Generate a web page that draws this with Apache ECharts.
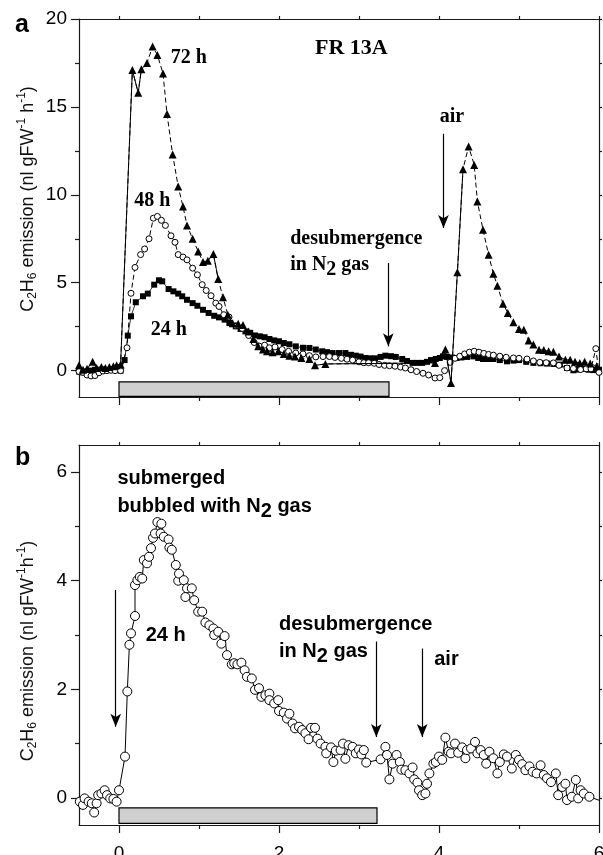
<!DOCTYPE html>
<html><head><meta charset="utf-8">
<script src="https://cdn.jsdelivr.net/npm/echarts@6/dist/echarts.min.js"></script>
<style>html,body{margin:0;padding:0;background:#fff}#c{width:603px;height:855px}</style>
</head><body><div id="c"></div>
<script>
// ---------- tick values ----------
const xTickLabels = [0, 2, 4, 6];
const xMinorTicks = [1, 3, 5];
const yTicksA = [0, 5, 10, 15, 20];
const yMinorA = [2.5, 7.5, 12.5, 17.5];
const yTicksB = [0, 2, 4, 6];
const yMinorB = [1, 3, 5];

// ---------- panel a data (hours, nl gFW-1 h-1) ----------
const a24h = [[-0.5,-0.05],[-0.45,-0.1],[-0.4,-0.05],[-0.35,0.0],[-0.3,0.05],[-0.25,0.05],[-0.2,0.08],[-0.15,0.05],[-0.1,0.08],[-0.05,0.1],[0.02,0.0],[0.07,0.6],
[0.11,1.99],[0.15,3.09],[0.21,3.89],[0.3,4.23],[0.36,4.38],[0.44,4.89],[0.5,5.14],[0.54,5.08],[0.62,4.64],[0.68,4.51],[0.74,4.38],[0.79,4.23],[0.85,4.03],[0.92,3.84],[0.98,3.69],[1.05,3.46],[1.12,3.28],[1.19,3.12],[1.25,3.03],[1.32,2.9],[1.38,2.71],[1.46,2.52],[1.52,2.37],[1.58,2.23],[1.64,2.15],[1.7,2.0],[1.76,1.95],[1.82,1.9],[1.88,1.8],[1.94,1.72],[2.0,1.67],[2.06,1.57],[2.13,1.5],[2.21,1.38],[2.3,1.3],[2.38,1.29],[2.46,1.2],[2.54,1.1],[2.6,1.05],[2.67,1.0],[2.75,1.0],[2.83,1.0],[2.9,0.9],[2.96,0.85],[3.02,0.8],[3.08,0.72],[3.14,0.7],[3.2,0.7],[3.27,0.78],[3.33,0.85],[3.4,0.82],[3.46,0.78],[3.54,0.66],[3.6,0.55],[3.67,0.44],[3.73,0.44],[3.79,0.44],[3.85,0.5],[3.9,0.6],[3.96,0.66],[4.01,0.72],[4.05,0.81],[4.1,0.78],[4.16,0.75],[4.22,0.72],[4.28,0.75],[4.35,0.78],[4.43,0.81],[4.49,0.72],[4.55,0.66],[4.62,0.66],[4.68,0.66],[4.76,0.6],[4.85,0.53],[4.93,0.57],[5.0,0.6],[5.09,0.5],[5.18,0.44],[5.27,0.42],[5.35,0.4],[5.43,0.38],[5.51,0.34],[5.6,0.15],[5.68,0.02],[5.74,0.06],[5.8,0.1],[5.87,0.05],[5.93,0.03],[6.0,0.05]];

const a48h = [[-0.5,-0.05],[-0.45,-0.1],[-0.4,-0.25],[-0.35,-0.3],[-0.3,-0.28],[-0.25,-0.12],[-0.2,-0.02],[-0.15,0.0],[-0.1,0.02],[-0.05,0.0],[0.02,0.0],
[0.1,1.3],[0.15,4.4],[0.2,5.87],[0.27,6.6],[0.32,6.92],[0.375,7.5],[0.43,8.67],[0.48,8.77],[0.53,8.55],[0.58,8.26],[0.65,7.67],[0.7,7.3],[0.74,6.6],[0.8,6.46],[0.85,6.3],[0.92,5.83],[0.98,5.45],[1.04,4.89],[1.09,4.56],[1.15,4.26],[1.21,3.84],[1.25,3.65],[1.31,3.18],[1.375,3.05],[1.46,2.55],[1.54,2.4],[1.62,2.0],[1.69,1.6],[1.75,1.4],[1.82,1.45],[1.88,1.3],[1.95,1.35],[2.04,1.2],[2.12,1.1],[2.21,1.0],[2.3,0.95],[2.38,0.85],[2.46,0.78],[2.55,0.8],[2.63,0.8],[2.7,0.75],[2.78,0.7],[2.85,0.65],[2.92,0.6],[3.0,0.5],[3.06,0.45],[3.12,0.45],[3.19,0.42],[3.25,0.35],[3.32,0.3],[3.38,0.28],[3.45,0.25],[3.52,0.2],[3.58,0.15],[3.65,0.05],[3.72,-0.05],[3.8,-0.15],[3.87,-0.25],[3.95,-0.42],[4.01,-0.4],[4.07,0.0],[4.14,0.47],[4.2,0.7],[4.26,0.82],[4.32,0.95],[4.38,1.05],[4.44,1.1],[4.5,1.05],[4.56,0.98],[4.62,0.92],[4.68,0.88],[4.76,0.82],[4.84,0.76],[4.93,0.72],[5.0,0.7],[5.1,0.66],[5.18,0.55],[5.26,0.47],[5.34,0.45],[5.43,0.44],[5.5,0.3],[5.6,0.15],[5.68,0.12],[5.77,0.06],[5.84,0.1],[5.9,0.1],[5.96,1.25],[6.0,-0.1]];

const a72h = [[-0.5,0.3],[-0.45,0.05],[-0.4,0.1],[-0.33,0.5],[-0.28,0.15],[-0.22,0.2],[-0.17,0.15],[-0.12,0.2],[-0.07,0.25],[-0.03,0.3],[0.02,0.35],
[0.167,17.1],[0.24,15.8],[0.28,17.14],[0.35,17.5],[0.42,18.43],[0.48,17.95],[0.55,16.9],[0.6,14.6],[0.67,12.3],[0.74,10.47],[0.8,9.34],[0.85,8.26],[0.92,7.5],[0.99,6.78],[1.05,6.18],[1.11,6.25],[1.18,6.63],[1.24,5.21],[1.3,4.17],[1.36,3.18],[1.42,2.7],[1.49,2.67],[1.55,2.6],[1.62,2.23],[1.68,1.8],[1.74,1.38],[1.8,1.2],[1.85,1.1],[1.92,1.05],[1.99,1.1],[2.06,0.95],[2.13,0.85],[2.2,0.8],[2.28,0.72],[2.38,0.66],[2.45,0.3],[2.58,0.38],
[3.95,0.44],[4.08,1.2],[4.15,-0.7],[4.23,5.59],[4.3,11.46],[4.37,12.75],[4.44,11.7],[4.48,9.62],[4.55,8.01],[4.62,6.59],[4.68,5.51],[4.73,4.83],[4.8,3.81],[4.86,3.28],[4.93,2.75],[5.0,2.37],[5.06,2.33],[5.12,1.72],[5.18,1.48],[5.25,1.19],[5.31,1.17],[5.37,1.1],[5.43,1.08],[5.5,0.8],[5.58,0.62],[5.64,0.62],[5.7,0.5],[5.76,0.44],[5.82,0.5],[5.89,0.4],[5.97,0.25]];
// x-ranges where the 72 h trace is drawn with a solid (not dashed) line
const a72hSolidRanges = [[-0.5,0.28],[1.11,1.24],[2.45,4.3]];

// ---------- panel b data ----------
const b24h = [[-0.49,-0.07],[-0.45,-0.13],[-0.43,-0.01],[-0.38,-0.07],[-0.34,-0.1],[-0.31,-0.27],[-0.28,-0.1],[-0.26,0.05],[-0.22,0.08],[-0.18,0.14],[-0.15,0.05],[-0.11,-0.01],[-0.07,-0.02],[-0.03,-0.07],
[0.0,0.14],[0.075,0.76],[0.104,1.96],[0.13,2.82],[0.15,3.03],[0.2,3.35],[0.2,3.92],[0.23,4.01],[0.26,4.07],[0.29,4.04],[0.31,4.38],[0.35,4.32],[0.375,4.44],[0.4,4.6],[0.425,4.79],[0.45,4.87],[0.48,5.08],[0.52,4.87],[0.53,5.05],[0.56,4.81],[0.62,4.76],[0.63,4.61],[0.66,4.57],[0.71,4.29],[0.74,4.0],[0.75,4.13],[0.81,4.01],[0.83,3.7],[0.85,3.86],[0.91,3.86],[0.94,3.64],[0.99,3.43],[1.04,3.43],[1.08,3.23],[1.13,3.18],[1.18,3.12],[1.19,3.0],[1.24,3.06],[1.28,2.84],[1.32,2.98],[1.35,2.63],[1.41,2.46],[1.44,2.48],[1.48,2.46],[1.53,2.49],[1.57,2.35],[1.6,2.23],[1.66,2.2],[1.7,1.99],[1.75,2.02],[1.78,1.86],[1.83,1.89],[1.88,1.92],[1.88,1.8],[1.94,1.74],[1.99,1.8],[2.0,1.6],[2.06,1.57],[2.1,1.46],[2.13,1.55],[2.17,1.37],[2.2,1.28],[2.25,1.31],[2.29,1.25],[2.33,1.19],[2.37,1.08],[2.4,1.29],[2.45,1.29],[2.48,1.09],[2.52,1.0],[2.58,0.94],[2.59,0.82],[2.65,0.93],[2.68,0.66],[2.71,0.87],[2.77,0.88],[2.8,1.0],[2.83,0.72],[2.87,0.97],[2.92,0.94],[2.96,0.82],[3.0,0.89],[3.03,0.8],[3.06,0.88],[3.09,0.65],
[3.27,0.71],[3.33,0.94],[3.35,0.79],[3.38,0.34],[3.42,0.63],[3.47,0.79],[3.51,0.66],[3.53,0.52],[3.58,0.51],[3.63,0.45],[3.67,0.56],[3.69,0.34],[3.73,0.28],[3.75,0.14],[3.79,0.05],[3.83,0.08],[3.85,0.26],[3.88,0.45],[3.93,0.63],[3.96,0.66],[4.0,0.76],[4.04,0.7],[4.08,1.11],[4.12,0.85],[4.15,0.82],[4.2,1.0],[4.24,0.83],[4.29,0.93],[4.33,0.73],[4.35,0.88],[4.4,0.91],[4.45,1.03],[4.48,0.82],[4.52,0.88],[4.56,0.79],[4.59,0.63],[4.63,0.85],[4.68,0.73],[4.73,0.45],[4.76,0.66],[4.81,0.8],[4.85,0.76],[4.91,0.54],[4.96,0.79],[5.0,0.7],[5.04,0.62],[5.08,0.51],[5.13,0.58],[5.17,0.48],[5.22,0.45],[5.27,0.6],[5.31,0.42],[5.35,0.36],[5.4,0.29],[5.46,0.45],[5.49,0.05],[5.54,0.2],[5.58,0.26],[5.6,-0.04],[5.66,0.02],[5.71,0.33],[5.74,-0.01],[5.77,0.14],[5.81,0.08],[5.88,0.02],[6.05,-0.07]];

// ---------- annotations (data coordinates) ----------
const submergedA = [0, 3.375, -0.64, -1.46];
const submergedB = [0, 3.225, -0.184, -0.47];
const arrowsA = [[3.366, 6.12, 1.38], [4.056, 13.47, 8.11]];
const arrowsB = [[-0.041, 3.83, 1.31], [3.216, 2.88, 1.12], [3.79, 2.75, 1.12]];
const textsA = [
  [0.646, 17.77, '72 h', 20],
  [0.19, 9.63, '48 h', 20],
  [0.396, 2.34, '24 h', 20],
  [2.45, 18.33, 'FR 13A', 22],
  [4.01, 14.45, 'air', 20],
  [2.14, 7.5, 'desubmergence', 20],
  [2.14, 6.0, '{n|in N}{s|2}{n| gas}', 20]
];
const textsB = [
  [-0.02, 5.88, 'submerged', 20],
  [-0.02, 5.37, '{n|bubbled with N}{s|2}{n| gas}', 20],
  [0.334, 3.0, '24 h', 20],
  [2.0, 3.2, 'desubmergence', 20],
  [2.0, 2.70, '{n|in N}{s|2}{n| gas}', 20],
  [3.94, 2.54, 'air', 20]
];
const yTitleA = '{n|C}{s|2}{n|H}{s|6}{n| emission (nl gFW}{p|-1}{n| h}{p|-1}{n|)}';
const yTitleB = '{n|C}{s|2}{n|H}{s|6}{n| emission (nl gFW}{p|-1}{n|h}{p|-1}{n|)}';

// ---------- helpers ----------
function solidPieces(pts, ranges) {
  const out = [];
  for (let i = 0; i < pts.length - 1; i++) {
    const a = pts[i], b = pts[i + 1];
    const solid = ranges.some(r => a[0] >= r[0] - 1e-9 && b[0] <= r[1] + 1e-9);
    if (solid) {
      if (out.length === 0 || out[out.length - 1] !== a) out.push(a);
      out.push(b);
    } else if (out.length && out[out.length - 1] !== '-') {
      out.push('-');
    }
  }
  return out.map(p => p === '-' ? [NaN, '-'] : p);
}

const AX = '#1a1a1a';
const FONT = 'Liberation Sans';
function xAxisDef(grid, pos, ticks, len, line, labels) {
  return {
    gridIndex: grid, type: 'value', min: -0.5, max: 6, position: pos,
    axisLine: { show: line, onZero: false, lineStyle: { color: AX, width: 1.2 } },
    axisTick: { show: true, inside: false, length: len, customValues: ticks, lineStyle: { color: AX, width: 1.2 } },
    axisLabel: labels ? { show: true, customValues: ticks, margin: 19, color: '#000', fontSize: 19, fontFamily: FONT } : { show: false },
    splitLine: { show: false }
  };
}
function yAxisDef(grid, min, max, pos, ticks, len, line, labels) {
  return {
    gridIndex: grid, type: 'value', min: min, max: max, position: pos,
    axisLine: { show: line, onZero: false, lineStyle: { color: AX, width: 1.2 } },
    axisTick: { show: true, inside: false, length: len, customValues: ticks, lineStyle: { color: AX, width: 1.2 } },
    axisLabel: labels ? { show: true, customValues: ticks, margin: 12, color: '#000', fontSize: 19, fontFamily: FONT } : { show: false },
    splitLine: { show: false }
  };
}

const allX = xTickLabels.concat(xMinorTicks);
const option = {
  backgroundColor: '#fff',
  animation: false,
  textStyle: { fontFamily: FONT },
  grid: [
    { left: 79, top: 19, width: 520, height: 378, outerBoundsMode: 'none', containLabel: false },
    { left: 79, top: 445, width: 520, height: 380, outerBoundsMode: 'none', containLabel: false }
  ],
  xAxis: [
    xAxisDef(0, 'bottom', xTickLabels, 8, true, false),
    xAxisDef(0, 'bottom', xMinorTicks, 4, false, false),
    xAxisDef(0, 'top', allX, 3, true, false),
    xAxisDef(1, 'bottom', xTickLabels, 8, true, true),
    xAxisDef(1, 'bottom', xMinorTicks, 4, false, false),
    xAxisDef(1, 'top', allX, 3, true, false)
  ],
  yAxis: [
    yAxisDef(0, -1.5, 20, 'left', yTicksA, 8, true, true),
    yAxisDef(0, -1.5, 20, 'left', yMinorA, 4, false, false),
    yAxisDef(0, -1.5, 20, 'right', yTicksA.concat(yMinorA), 3, true, false),
    yAxisDef(1, -0.5, 6.5, 'left', yTicksB, 8, true, true),
    yAxisDef(1, -0.5, 6.5, 'left', yMinorB, 4, false, false),
    yAxisDef(1, -0.5, 6.5, 'right', yTicksB.concat(yMinorB), 3, true, false)
  ],
  series: [
    {
      name: '24 h', type: 'line', xAxisIndex: 0, yAxisIndex: 0, data: a24h,
      symbol: 'rect', symbolSize: 6, itemStyle: { color: '#000' },
      lineStyle: { color: '#000', width: 0.8 }, z: 3
    },
    {
      name: '48 h', type: 'line', xAxisIndex: 0, yAxisIndex: 0, data: a48h,
      symbol: 'circle', symbolSize: 6, itemStyle: { color: '#fff', borderColor: '#000', borderWidth: 1 },
      lineStyle: { color: '#000', width: 1, type: [5, 3] }, z: 4
    },
    {
      name: '72 h', type: 'line', xAxisIndex: 0, yAxisIndex: 0, data: a72h,
      symbol: 'triangle', symbolSize: 8, itemStyle: { color: '#000' },
      lineStyle: { color: '#000', width: 1, type: [5, 3] }, z: 5
    },
    {
      name: '72 h solid', type: 'line', xAxisIndex: 0, yAxisIndex: 0, data: solidPieces(a72h, a72hSolidRanges),
      symbol: 'none', connectNulls: false, lineStyle: { color: '#000', width: 1 }, z: 5,
      markArea: {
        silent: true,
        itemStyle: { color: '#d0d0d0', borderColor: '#000', borderWidth: 1.2 },
        data: [[{ coord: [submergedA[0], submergedA[2]] }, { coord: [submergedA[1], submergedA[3]] }]]
      },
      markLine: {
        silent: true, symbol: ['none', 'arrow'], symbolSize: [8, 13],
        label: { show: false }, lineStyle: { color: '#000', width: 1.2, type: 'solid' },
        data: arrowsA.map(a => [{ coord: [a[0], a[1]] }, { coord: [a[0], a[2]] }])
      }
    },
    {
      name: 'b 24 h', type: 'line', xAxisIndex: 3, yAxisIndex: 3, data: b24h,
      symbol: 'circle', symbolSize: 9, itemStyle: { color: '#fff', borderColor: '#000', borderWidth: 1 },
      lineStyle: { color: '#000', width: 1 }, z: 4,
      markArea: {
        silent: true,
        itemStyle: { color: '#d0d0d0', borderColor: '#000', borderWidth: 1.2 },
        data: [[{ coord: [submergedB[0], submergedB[2]] }, { coord: [submergedB[1], submergedB[3]] }]]
      },
      markLine: {
        silent: true, symbol: ['none', 'arrow'], symbolSize: [8, 13],
        label: { show: false }, lineStyle: { color: '#000', width: 1.2, type: 'solid' },
        data: arrowsB.map(a => [{ coord: [a[0], a[1]] }, { coord: [a[0], a[2]] }])
      }
    }
  ]
};

const chart = echarts.init(document.getElementById('c'), null, { renderer: 'canvas' });
chart.setOption(option);

function richFor(fam, size) {
  return {
    n: { fontFamily: fam, fontWeight: 'bold', fontSize: size, lineHeight: 24, fill: '#000', color: '#000' },
    s: { fontFamily: fam, fontWeight: 'bold', fontSize: size, lineHeight: 24, verticalAlign: 'top', padding: [7, 0, 0, 0], fill: '#000', color: '#000' }
  };
}
function place(gridIdx, list, fam) {
  return list.map(o => {
    const p = chart.convertToPixel({ gridIndex: gridIdx }, [o[0], o[1]]);
    return {
      type: 'text', x: p[0], y: p[1], silent: true, z: 100,
      style: {
        text: o[2], fill: '#000', fontFamily: fam, fontWeight: 'bold', fontSize: o[3],
        align: 'left', verticalAlign: 'middle', textAlign: 'left', textVerticalAlign: 'middle',
        rich: richFor(fam, o[3])
      }
    };
  });
}
const titleRich = {
  n: { fontFamily: FONT, fontSize: 18, lineHeight: 24, fill: '#111', color: '#111' },
  s: { fontFamily: FONT, fontSize: 12, lineHeight: 24, verticalAlign: 'top', padding: [11, 0, 0, 0], fill: '#111', color: '#111' },
  p: { fontFamily: FONT, fontSize: 12, lineHeight: 24, verticalAlign: 'top', padding: [0, 0, 0, 0], fill: '#111', color: '#111' }
};
function yTitle(text, cx, cy) {
  return {
    type: 'text', x: cx, y: cy, rotation: Math.PI / 2, silent: true, z: 100,
    style: { text: text, fill: '#111', fontFamily: FONT, fontSize: 18, align: 'center', verticalAlign: 'middle', textAlign: 'center', textVerticalAlign: 'middle', rich: titleRich }
  };
}
const graphics = [].concat(
  place(0, textsA, 'Liberation Serif'),
  place(1, textsB, 'Liberation Sans'),
  [
    yTitle(yTitleA, 28, 199),
    yTitle(yTitleB, 28, 651),
    { type: 'text', x: 15, y: 25, silent: true, style: { text: 'a', fill: '#000', fontFamily: FONT, fontWeight: 'bold', fontSize: 25, align: 'left', verticalAlign: 'middle', textAlign: 'left', textVerticalAlign: 'middle' } },
    { type: 'text', x: 15, y: 458, silent: true, style: { text: 'b', fill: '#000', fontFamily: FONT, fontWeight: 'bold', fontSize: 25, align: 'left', verticalAlign: 'middle', textAlign: 'left', textVerticalAlign: 'middle' } }
  ]
);
chart.setOption({ graphic: graphics });
</script>
</body></html>
